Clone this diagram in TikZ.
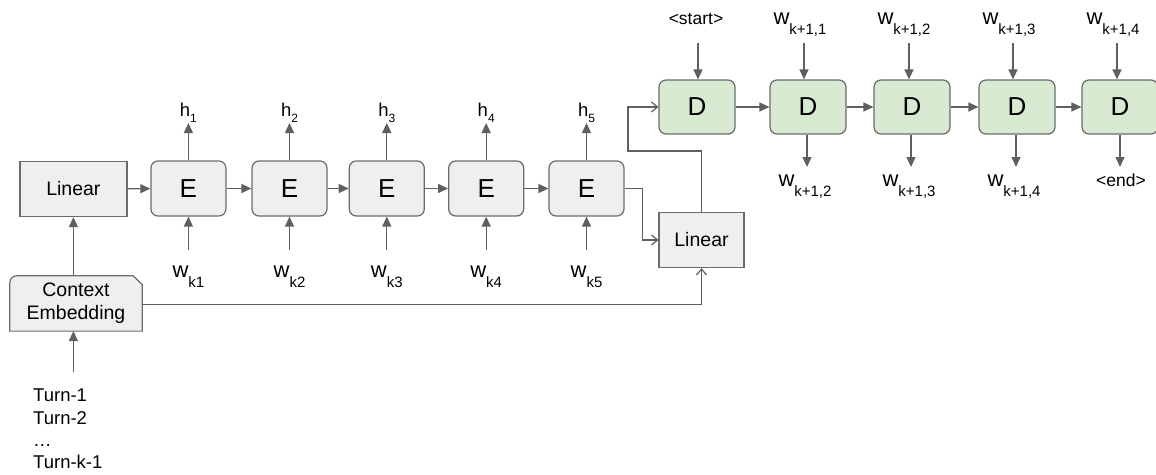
\documentclass[tikz,border=0pt]{standalone}
\usepackage{fontspec}
\setmainfont{Liberation Sans}
\usetikzlibrary{arrows.meta,backgrounds}

\definecolor{boxgray}{HTML}{EFEFEF}
\definecolor{boxgreen}{HTML}{D9EAD3}
\definecolor{edgegray}{HTML}{6B6B6B}
\definecolor{wiregray}{HTML}{5F5F5F}

% word labels with a lowered index
\newcommand\wlab[1]{{\fontsize{22}{22}\selectfont w}\raisebox{-10.5pt}{\fontsize{15}{15}\selectfont #1}}
\newcommand\hlab[1]{{\fontsize{18.5}{18.5}\selectfont h}\raisebox{-6pt}{\fontsize{12}{12}\selectfont #1}}

\tikzset{
  cell/.style={draw=edgegray, line width=1.2pt, rounded corners=7pt,
    minimum width=75pt, minimum height=55pt, inner sep=0pt,
    font=\fontsize{26}{26}\selectfont},
  enc/.style={cell, fill=boxgray},
  dec/.style={cell, fill=boxgreen, minimum width=76pt, minimum height=54pt},
  linbox/.style={draw=edgegray, line width=1.2pt, fill=boxgray,
    minimum height=55pt, inner sep=0pt, font=\fontsize{19.5}{19.5}\selectfont},
  lab/.style={anchor=base, inner sep=0pt},
  tri/.style={draw=wiregray, line width=1.3pt,
    -{Triangle[length=10pt,width=9pt]}},
  barb/.style={draw=wiregray, line width=1.3pt,
    -{Straight Barb[length=6pt,width=10pt,line width=1.2pt]}},
}

\begin{document}
\begin{tikzpicture}[x=1pt,y=-1pt]
\useasboundingbox (0,0) rectangle (1156,474);

% ---------------- encoder ----------------
\node[linbox, minimum width=107pt] (lin1) at (73.4,189) {Linear};
\node[enc] (e1) at (188.4,188.5) {E};
\node[enc] (e2) at (289.5,188.5) {E};
\node[enc] (e3) at (386.8,188.5) {E};
\node[enc] (e4) at (486.2,188.5) {E};
\node[enc] (e5) at (586.5,188.5) {E};

\draw[tri] (lin1) -- (e1);
\draw[tri] (e1) -- (e2);
\draw[tri] (e2) -- (e3);
\draw[tri] (e3) -- (e4);
\draw[tri] (e4) -- (e5);

% hidden states
\foreach \i/\x in {1/188.4,2/289.5,3/386.8,4/486.2,5/586.5}{
  \node[lab] (h\i) at (\x,116) {\hlab{\i}};
  \coordinate (ht\i) at (\x,123);
  \draw[tri] (e\i.north) -- (ht\i);
}

% input words
\foreach \i/\x in {1/188.4,2/289.5,3/386.8,4/486.2,5/586.5}{
  \node[lab] (w\i) at (\x,277) {\wlab{k\i}};
  \coordinate (wb\i) at (\x,250);
  \draw[tri] (wb\i) -- (e\i.south);
}

% ---------------- context ----------------
\node[inner sep=0pt, minimum width=132pt, minimum height=55pt, align=center,
  font=\fontsize{19.5}{23}\selectfont] (ctx) at (76,303.4) {Context\\Embedding};
\begin{scope}[on background layer]
  \path[draw=edgegray, line width=1.2pt, fill=boxgray]
    (ctx.south west) -- ([yshift=-7pt]ctx.north west)
    arc[start angle=180, end angle=90, radius=7pt]
    -- ([xshift=-9pt]ctx.north east) -- ([yshift=-9pt]ctx.north east)
    -- (ctx.south east) -- cycle;
\end{scope}
\draw[tri] (lin1.south |- ctx.north) -- (lin1.south);

\node[anchor=north west, inner sep=0pt, align=left,
  font=\fontsize{18.5}{22.3}\selectfont] (turns) at (33,389)
  {Turn-1\\Turn-2\\\ldots\\Turn-k-1};
\coordinate (tt) at (73.4,372);
\draw[tri] (tt) -- (tt |- ctx.south);

% ---------------- bridge ----------------
\node[linbox, minimum width=85pt] (lin2) at (701.5,240) {Linear};
\draw[barb] (e5.east) -- ++(18,0) |- (lin2.west);
\draw[barb] (ctx.east |- 0,304.3) -| (lin2.south);
\coordinate (j1) at (628,151);

% ---------------- decoder ----------------
\node[dec] (d1) at (697,107) {D};
\node[dec] (d2) at (808,107) {D};
\node[dec] (d3) at (912,107) {D};
\node[dec] (d4) at (1017,107) {D};
\node[dec] (d5) at (1120,107) {D};

\draw[barb] (lin2.north) |- (j1) |- (d1.west);

\draw[tri] (d1) -- (d2);
\draw[tri] (d2) -- (d3);
\draw[tri] (d3) -- (d4);
\draw[tri] (d4) -- (d5);

% decoder inputs
\node[lab, font=\fontsize{17.5}{17.5}\selectfont] (s0) at (696,24) {<start>};
\node[lab] (s1) at (800,24) {\wlab{k+1,1}};
\node[lab] (s2) at (904,24) {\wlab{k+1,2}};
\node[lab] (s3) at (1009,24) {\wlab{k+1,3}};
\node[lab] (s4) at (1113,24) {\wlab{k+1,4}};
\foreach \i/\x in {0/698,1/804,2/909,3/1013,4/1117}{
  \coordinate (sb\i) at (\x,43);
}
\draw[tri] (sb0) -- (sb0 |- d1.north);
\draw[tri] (sb1) -- (sb1 |- d2.north);
\draw[tri] (sb2) -- (sb2 |- d3.north);
\draw[tri] (sb3) -- (sb3 |- d4.north);
\draw[tri] (sb4) -- (sb4 |- d5.north);

% decoder outputs
\node[lab] (o1) at (805,186) {\wlab{k+1,2}};
\node[lab] (o2) at (909,186) {\wlab{k+1,3}};
\node[lab] (o3) at (1014,186) {\wlab{k+1,4}};
\node[lab, font=\fontsize{17.5}{17.5}\selectfont] (o4) at (1121,186) {<end>};
\foreach \i/\x in {1/807,2/911,3/1016,4/1120}{
  \coordinate (ob\i) at (\x,167);
}
\draw[tri] (ob1 |- d2.south) -- (ob1);
\draw[tri] (ob2 |- d3.south) -- (ob2);
\draw[tri] (ob3 |- d4.south) -- (ob3);
\draw[tri] (ob4 |- d5.south) -- (ob4);
\end{tikzpicture}
\end{document}
